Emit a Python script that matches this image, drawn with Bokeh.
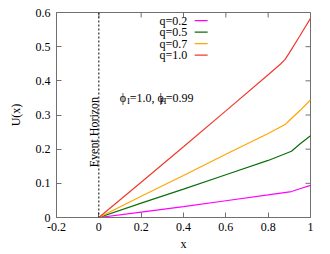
from bokeh.plotting import figure
from bokeh.models import FixedTicker, Span, Range1d
from bokeh.core.properties import value
from bokeh.embed import file_html
from bokeh.resources import INLINE
import math

# ---- data ----
labels = ["q=0.2", "q=0.5", "q=0.7", "q=1.0"]
colors = ["#ff00ff", "#0b6e0b", "#ffa500", "#f03a2e"]

x_q02 = [0.0, 0.2, 0.4, 0.6, 0.8, 0.91, 0.95, 1.0]
u_q02 = [0.0, 0.016, 0.032, 0.049, 0.066, 0.076, 0.084, 0.094]

x_q05 = [0.0, 0.2, 0.4, 0.6, 0.8, 0.91, 0.95, 1.0]
u_q05 = [0.0, 0.042, 0.083, 0.125, 0.167, 0.194, 0.215, 0.239]

x_q07 = [0.0, 0.2, 0.4, 0.6, 0.8, 0.88, 0.9, 0.95, 1.0]
u_q07 = [0.0, 0.062, 0.123, 0.185, 0.246, 0.272, 0.284, 0.313, 0.344]

x_q10 = [0.0, 0.2, 0.4, 0.6, 0.8, 0.86, 0.88, 0.9, 0.95, 1.0]
u_q10 = [0.0, 0.103, 0.207, 0.312, 0.418, 0.450, 0.463, 0.482, 0.532, 0.583]

xs = [x_q02, x_q05, x_q07, x_q10]
us = [u_q02, u_q05, u_q07, u_q10]

x_ticks = [-0.2, 0.0, 0.2, 0.4, 0.6, 0.8, 1.0]
x_tick_labels = ["-0.2", "0", "0.2", "0.4", "0.6", "0.8", "1"]
y_ticks = [0.0, 0.1, 0.2, 0.3, 0.4, 0.5, 0.6]
y_tick_labels = ["0", "0.1", "0.2", "0.3", "0.4", "0.5", "0.6"]

horizon_x = 0.0
x_min, x_max = -0.2, 1.0
y_min, y_max = 0.0, 0.6

FONT = "Liberation Serif"
FS = "12px"
SUB_FS = "9px"
GRAY = "#707070"

p = figure(width=322, height=254, output_backend="svg", toolbar_location=None,
           x_range=Range1d(x_min, x_max), y_range=Range1d(y_min, y_max),
           min_border_left=56, min_border_right=12, min_border_top=12, min_border_bottom=37)
p.grid.visible = False
p.outline_line_color = GRAY
p.background_fill_color = "white"
p.border_fill_color = "white"

def style_axis(ax, ticks, tlabels):
    ax.ticker = FixedTicker(ticks=ticks)
    ax.major_label_overrides = {t: l for t, l in zip(ticks, tlabels)}
    ax.major_tick_in = 5
    ax.major_tick_out = 0
    ax.minor_tick_in = 0
    ax.minor_tick_out = 0
    ax.major_tick_line_color = GRAY
    ax.axis_line_color = GRAY
    ax.major_label_text_font = FONT
    ax.major_label_text_font_size = FS
    ax.major_label_text_color = "black"
    ax.axis_label_text_font = FONT
    ax.axis_label_text_font_style = "normal"
    ax.axis_label_text_font_size = FS
    ax.axis_label_text_color = "black"

xa = p.xaxis[0]
style_axis(xa, x_ticks, x_tick_labels)
xa.axis_label = "x"
xa.major_label_standoff = 5
xa.axis_label_standoff = 3

ya = p.yaxis[0]
style_axis(ya, y_ticks, y_tick_labels)
ya.axis_label = "U(x)"
ya.major_label_standoff = 6
ya.axis_label_standoff = 10

# mirror ticks on top and right edges (inward)
p.ray(x=x_ticks, y=[y_max] * len(x_ticks), length=5, length_units="screen",
      angle=-math.pi / 2, line_color=GRAY, line_width=1)
p.ray(x=[x_max] * len(y_ticks), y=y_ticks, length=5, length_units="screen",
      angle=math.pi, line_color=GRAY, line_width=1)

# curves
for xv, uv, c in zip(xs, us, colors):
    p.line(xv, uv, line_color=c, line_width=1.2)

# event horizon
p.add_layout(Span(location=horizon_x, dimension="height", line_color="black",
                  line_dash="2 2", line_width=1))
p.text(x=[horizon_x], y=[0.25], text=["Event Horizon"], angle=math.pi / 2,
       text_align="center", text_baseline="middle", x_offset=-5,
       text_font=value(FONT), text_font_size=FS, text_color="black")

# legend (gnuplot style: label then sample line)
leg_text_x = 0.418
leg_line_x0, leg_line_x1 = 0.453, 0.514
leg_y_top, leg_dy = 0.576, 0.0335
leg_y = [leg_y_top - i * leg_dy for i in range(len(labels))]
p.text(x=[leg_text_x] * len(labels), y=leg_y, text=labels, text_align="right",
       text_baseline="middle", text_font=value(FONT), text_font_size=FS, text_color="black")
p.segment(x0=[leg_line_x0] * len(labels), y0=leg_y, x1=[leg_line_x1] * len(labels), y1=leg_y,
          line_color=colors, line_width=1.2)

# annotation phi_I=1.0, phi_H=0.99
ann_y = 0.349
main_parts = [("\u03d5", 0.099), ("=1.0, \u03d5", 0.146), ("=0.99", 0.316)]
sub_parts = [("I", 0.133), ("H", 0.289)]
p.text(x=[x for _, x in main_parts], y=[ann_y] * 3, text=[t for t, _ in main_parts],
       text_align="left", text_baseline="middle", text_font=value(FONT),
       text_font_size=FS, text_color="black")
p.text(x=[x for _, x in sub_parts], y=[ann_y] * 2, text=[t for t, _ in sub_parts],
       text_align="left", text_baseline="middle", y_offset=3, text_font=value(FONT),
       text_font_size=SUB_FS, text_color="black")

open("out.html", "w").write(file_html(p, INLINE))
